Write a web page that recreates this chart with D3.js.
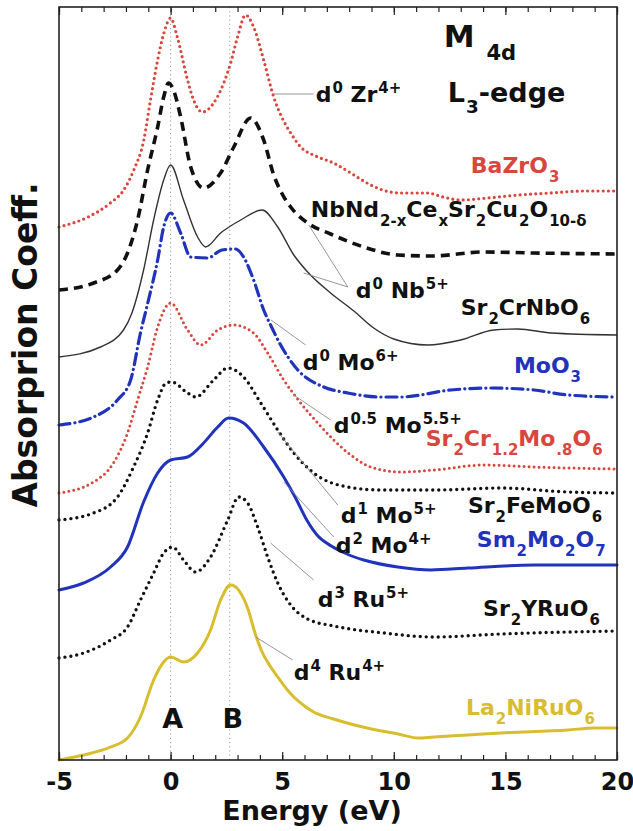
<!DOCTYPE html>
<html>
<head>
<meta charset="utf-8">
<script src="https://cdn.jsdelivr.net/npm/d3@7"></script>
<style>
  body { margin: 0; background: #fff; }
  text { font-family: "DejaVu Sans", "Liberation Sans", Arial, sans-serif; font-weight: bold; }
</style>
</head>
<body>
<svg id="chart" width="633" height="831"></svg>
<script>
// ---- data: M 4d L3-edge XAS spectra, stacked with vertical offsets ----
// each spectrum: [energy (eV), absorption (arb. units, offset)]
const energyTicks = [-5, 0, 5, 10, 15, 20];
const featureEnergies = [0, 2.65];          // features A and B
const featureNames = ["A", "B"];

const bazro3 = [[-5,5.33],[-3.7,5.43],[-2.7,5.57],[-2.1,5.70],[-1.65,5.90],[-1.2,6.20],[-0.9,6.60],[-0.58,7.00],[-0.3,7.27],[0,7.42],[0.3,7.23],[0.76,6.80],[1.03,6.60],[1.43,6.48],[1.93,6.57],[2.38,6.77],[2.69,6.97],[3.0,7.23],[3.36,7.45],[3.72,7.33],[4.17,7.00],[4.62,6.63],[5.0,6.42],[5.38,6.27],[5.83,6.13],[6.5,6.04],[7.3,5.97],[8.0,5.88],[8.8,5.77],[9.5,5.70],[10.3,5.67],[11.5,5.67],[12.2,5.63],[13.0,5.60],[14.2,5.62],[15.6,5.65],[17.0,5.67],[18.5,5.69],[20,5.69]];
const nbndCuprate = [[-5,4.70],[-3.45,4.77],[-2.38,4.90],[-1.93,5.07],[-1.48,5.40],[-1.03,5.90],[-0.58,6.33],[-0.31,6.63],[-0.09,6.77],[0.13,6.70],[0.45,6.43],[0.9,5.93],[1.48,5.72],[2.24,5.87],[2.83,6.13],[3.59,6.42],[4.17,6.20],[4.62,5.85],[5.0,5.66],[5.38,5.53],[6.14,5.37],[7.17,5.26],[8.65,5.13],[10.18,5.05],[11.66,5.04],[14.04,5.08],[16.28,5.07],[20,5.06]];
const sr2crnbo6 = [[-5,4.03],[-3.14,4.13],[-2.11,4.30],[-1.75,4.46],[-1.21,4.90],[-0.76,5.40],[-0.31,5.80],[0,5.95],[0.58,5.60],[1.21,5.23],[1.57,5.13],[2.24,5.27],[3.14,5.40],[4.1,5.50],[4.8,5.33],[5.52,5.05],[6.14,4.88],[7.17,4.67],[8.21,4.49],[9.1,4.32],[10.0,4.21],[11.52,4.15],[13.0,4.20],[14.48,4.30],[15.56,4.31],[17.04,4.27],[20,4.25]];
const moo3 = [[-5,3.35],[-3.45,3.43],[-2.38,3.60],[-1.79,3.80],[-1.35,4.27],[-0.99,4.60],[-0.58,5.00],[-0.31,5.33],[0,5.47],[0.45,5.27],[0.9,5.03],[1.66,5.02],[2.3,5.10],[2.9,5.11],[3.27,5.03],[3.72,4.80],[4.17,4.50],[4.48,4.35],[4.93,4.15],[5.7,3.90],[6.86,3.73],[7.94,3.67],[9.42,3.63],[10.31,3.63],[12.56,3.70],[14.35,3.72],[16.28,3.70],[17.8,3.65],[20,3.63]];
const sr2crmoo6 = [[-5,2.67],[-3.45,2.78],[-2.56,2.97],[-1.93,3.27],[-1.48,3.60],[-1.03,3.93],[-0.58,4.33],[0,4.57],[0.76,4.30],[1.35,4.15],[2.11,4.30],[2.83,4.35],[3.72,4.27],[4.35,4.07],[5.07,3.80],[5.83,3.57],[6.59,3.37],[7.31,3.20],[8.07,3.05],[8.97,2.93],[10.31,2.88],[11.79,2.90],[14.04,2.95],[16.28,2.93],[20,2.91]];
const sr2femoo6 = [[-5,2.40],[-3.45,2.47],[-2.38,2.63],[-1.66,2.93],[-1.03,3.27],[-0.58,3.60],[-0.2,3.77],[0.05,3.78],[0.76,3.67],[1.12,3.63],[1.93,3.80],[2.56,3.92],[3.27,3.83],[4.04,3.57],[4.8,3.30],[5.52,3.07],[6.41,2.87],[7.94,2.73],[9.42,2.70],[11.79,2.70],[14.8,2.72],[17.8,2.68],[20,2.67]];
const sm2mo2o7 = [[-5,1.70],[-3.9,1.77],[-2.69,1.93],[-1.93,2.13],[-1.21,2.58],[-0.58,2.87],[0,3.00],[0.76,3.03],[1.48,3.17],[2.11,3.33],[2.6,3.42],[3.27,3.37],[4.17,3.13],[5.07,2.83],[5.6,2.62],[6.1,2.40],[6.6,2.24],[7.2,2.14],[7.9,2.06],[8.65,2.00],[10.18,1.93],[11.66,1.90],[13.32,1.92],[16.28,1.95],[20,1.95]];
const sr2yruo6 = [[-5,1.02],[-3.9,1.07],[-2.69,1.20],[-1.93,1.33],[-1.35,1.60],[-0.76,1.87],[-0.31,2.07],[0.09,2.13],[0.58,2.00],[1.12,1.88],[1.79,2.03],[2.56,2.40],[3.05,2.63],[3.45,2.57],[3.9,2.33],[4.35,2.03],[4.8,1.77],[5.38,1.55],[6.14,1.41],[7.31,1.34],[9.55,1.27],[11.79,1.23],[14.8,1.26],[20,1.29]];
const la2niruo6 = [[-5,0.00],[-3.9,0.05],[-2.69,0.13],[-1.93,0.22],[-1.35,0.43],[-0.76,0.80],[-0.31,0.98],[0,1.03],[0.58,0.98],[1.21,1.07],[1.79,1.30],[2.24,1.60],[2.69,1.75],[3.45,1.52],[3.81,1.25],[4.1,1.08],[4.4,0.96],[4.8,0.83],[5.2,0.71],[5.52,0.63],[6.0,0.54],[6.41,0.48],[7.3,0.41],[8.8,0.32],[10.2,0.26],[11.08,0.22],[11.79,0.23],[13.32,0.25],[14.8,0.27],[17.8,0.30],[18.97,0.32],[20,0.32]];

// ---- styling ----
const RED = "#d9463e", BLUE = "#2233bb", GOLD = "#d8bd2e", BLACK = "#111";
const series = [
  { data: bazro3,      color: RED,   width: 3.2, dash: "0,5.2", cap: "round" },
  { data: nbndCuprate, color: BLACK, width: 3.6, dash: "9,6",   cap: "butt" },
  { data: sr2crnbo6,   color: "#333", width: 1.4, dash: null,   cap: "butt" },
  { data: moo3,        color: BLUE,  width: 3.2, dash: "11,5,0.1,5", cap: "round" },
  { data: sr2crmoo6,   color: RED,   width: 3.0, dash: "0,5",   cap: "round" },
  { data: sr2femoo6,   color: BLACK, width: 3.4, dash: "0,6",   cap: "round" },
  { data: sm2mo2o7,    color: BLUE,  width: 3.0, dash: null,    cap: "round" },
  { data: sr2yruo6,    color: BLACK, width: 3.4, dash: "0,6",   cap: "round" },
  { data: la2niruo6,   color: GOLD,  width: 3.0, dash: null,    cap: "round" }
];

const svg = d3.select("#chart");
const x = d3.scaleLinear().domain([-5, 20]).range([59, 617]);
const y = d3.scaleLinear().domain([0, 7.53]).range([760, 7]);

// feature guide lines A / B
svg.append("g").selectAll("line").data(featureEnergies).join("line")
  .attr("x1", d => x(d)).attr("x2", d => x(d))
  .attr("y1", y(7.53)).attr("y2", y(0))
  .attr("stroke", "#9a9a9a").attr("stroke-width", 1).attr("stroke-dasharray", "1.2,3");

// spectra
const line = d3.line().x(d => x(d[0])).y(d => y(d[1])).curve(d3.curveMonotoneX);
svg.append("g").selectAll("path").data(series).join("path")
  .attr("d", d => line(d.data))
  .attr("fill", "none")
  .attr("stroke", d => d.color)
  .attr("stroke-width", d => d.width)
  .attr("stroke-dasharray", d => d.dash)
  .attr("stroke-linecap", d => d.cap)
  .attr("stroke-linejoin", "round");

// axes: minor ticks every 1 eV, major ticks with labels every 5 eV, ticks pointing inward
const minor = d3.range(-5, 21, 1);
svg.append("g").attr("transform", `translate(0,${y(0)})`)
  .call(d3.axisBottom(x).tickValues(minor).tickSize(-5).tickFormat(""))
  .call(g => g.select(".domain").remove());
svg.append("g").attr("transform", `translate(0,${y(7.53)})`)
  .call(d3.axisTop(x).tickValues(minor).tickSize(-5).tickFormat(""))
  .call(g => g.select(".domain").remove());
svg.append("g").attr("transform", `translate(0,${y(7.53)})`)
  .call(d3.axisTop(x).tickValues(energyTicks).tickSize(-8).tickFormat(""))
  .call(g => g.select(".domain").remove());
const xAxis = svg.append("g").attr("transform", `translate(0,${y(0)})`)
  .call(d3.axisBottom(x).tickValues(energyTicks).tickSize(-8).tickPadding(13).tickFormat(d => String(d)))
  .call(g => g.select(".domain").remove());
xAxis.selectAll("text").attr("font-size", 24).attr("fill", "#111")
  .attr("font-family", "DejaVu Sans, sans-serif").attr("font-weight", "bold");
svg.selectAll(".tick line").attr("stroke", "#222").attr("stroke-width", 1.2);

// frame
svg.append("rect")
  .attr("x", x(-5)).attr("y", y(7.53))
  .attr("width", x(20) - x(-5)).attr("height", y(0) - y(7.53))
  .attr("fill", "none").attr("stroke", "#222").attr("stroke-width", 1.6);

// axis titles
svg.append("text").attr("x", 312).attr("y", 820)
  .attr("text-anchor", "middle").attr("font-size", 27).attr("fill", "#111")
  .text("Energy (eV)");
svg.append("text").attr("transform", `translate(37,345) rotate(-90)`)
  .attr("text-anchor", "middle").attr("font-size", 33).attr("fill", "#111")
  .text("Absorprion Coeff.");

// rich text helper: "Sr_{2}CrNbO_{6}", "d^{0} Zr^{4+}"
function rich(sel, str, size) {
  const re = /([_^])\{([^}]*)\}|([^_^]+)/g;
  let m, cur = 0;
  while ((m = re.exec(str)) !== null) {
    let kind = "n", s = m[3];
    if (m[1]) { kind = m[1] === "_" ? "sub" : "sup"; s = m[2]; }
    const off = kind === "sub" ? size * 0.42 : kind === "sup" ? -size * 0.42 : 0;
    sel.append("tspan")
      .attr("dy", off - cur)
      .attr("dx", kind === "n" ? 0 : 1)
      .attr("font-size", kind === "n" ? size : size * 0.68)
      .text(s);
    cur = off;
  }
}

// annotations: anchor in (energy, absorption)
const labels = [
  { e: 6.5,  v: 6.58, t: "d^{0} Zr^{4+}", c: BLACK, s: 22 },
  { e: 13.45, v: 5.87, t: "BaZrO_{3}", c: RED, s: 22 },
  { e: 6.28, v: 5.43, t: "NbNd_{2-x}Ce_{x}Sr_{2}Cu_{2}O_{10-δ}", c: BLACK, s: 22 },
  { e: 8.3,  v: 4.62, t: "d^{0} Nb^{5+}", c: BLACK, s: 22 },
  { e: 13.0, v: 4.45, t: "Sr_{2}CrNbO_{6}", c: BLACK, s: 22 },
  { e: 5.92, v: 3.90, t: "d^{0} Mo^{6+}", c: BLACK, s: 22 },
  { e: 15.38, v: 3.87, t: "MoO_{3}", c: BLUE, s: 22 },
  { e: 7.31, v: 3.27, t: "d^{0.5} Mo^{5.5+}", c: BLACK, s: 22 },
  { e: 11.43, v: 3.14, t: "Sr_{2}Cr_{1.2}Mo_{.8}O_{6}", c: RED, s: 22 },
  { e: 13.32, v: 2.47, t: "Sr_{2}FeMoO_{6}", c: BLACK, s: 22 },
  { e: 7.62, v: 2.37, t: "d^{1} Mo^{5+}", c: BLACK, s: 22 },
  { e: 13.72, v: 2.13, t: "Sm_{2}Mo_{2}O_{7}", c: BLUE, s: 22 },
  { e: 7.4,  v: 2.07, t: "d^{2} Mo^{4+}", c: BLACK, s: 22 },
  { e: 6.59, v: 1.53, t: "d^{3} Ru^{5+}", c: BLACK, s: 22 },
  { e: 14.0, v: 1.44, t: "Sr_{2}YRuO_{6}", c: BLACK, s: 22 },
  { e: 5.52, v: 0.80, t: "d^{4} Ru^{4+}", c: BLACK, s: 22 },
  { e: 13.23, v: 0.45, t: "La_{2}NiRuO_{6}", c: GOLD, s: 22 }
];
const leaders = [
  [[4.62, 6.66], [6.41, 6.66]],
  [[6.19, 5.35], [7.94, 4.73]],
  [[5.96, 4.87], [7.94, 4.73]],
  [[4.5, 4.40], [6.05, 4.15]],
  [[5.52, 3.65], [7.17, 3.40]],
  [[4.8, 3.28], [7.49, 2.55]],
  [[5.07, 2.78], [7.31, 2.23]],
  [[4.48, 2.17], [6.41, 1.80]],
  [[3.81, 1.23], [5.47, 1.00]]
];

svg.append("g").selectAll("line").data(leaders).join("line")
  .attr("x1", d => x(d[0][0])).attr("y1", d => y(d[0][1]))
  .attr("x2", d => x(d[1][0])).attr("y2", d => y(d[1][1]))
  .attr("stroke", "#8a8a8a").attr("stroke-width", 0.9);

labels.forEach(l => {
  const t = svg.append("text").attr("x", x(l.e)).attr("y", y(l.v))
    .attr("fill", l.c).attr("font-size", l.s);
  rich(t, l.t, l.s);
});

// edge title
const title1 = svg.append("text").attr("x", x(12.24)).attr("y", 47).attr("fill", "#111").attr("font-size", 31);
rich(title1, "M _{4d}", 31);
const title2 = svg.append("text").attr("x", x(12.42)).attr("y", 102).attr("fill", "#111").attr("font-size", 27);
rich(title2, "L_{3}-edge", 27);

// feature letters
svg.append("g").selectAll("text").data(featureEnergies).join("text")
  .attr("x", (d, i) => x(d) + (i === 0 ? 2 : 3)).attr("y", y(0.32))
  .attr("text-anchor", "middle").attr("font-size", 27).attr("fill", "#111")
  .text((d, i) => featureNames[i]);
</script>
</body>
</html>
